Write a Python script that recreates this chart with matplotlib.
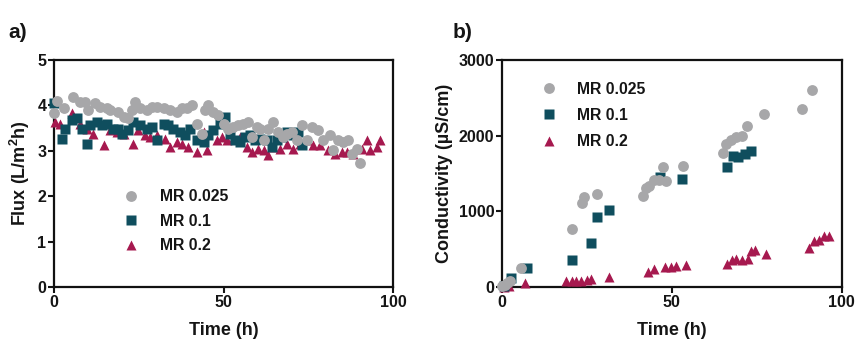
import matplotlib
matplotlib.use("Agg")
import matplotlib.pyplot as plt

plt.rcParams['font.family'] = ['Liberation Sans', 'DejaVu Sans']
plt.rcParams['font.weight'] = 'bold'
plt.rcParams['mathtext.fontset'] = 'custom'
plt.rcParams['mathtext.bf'] = 'Liberation Sans:bold'
plt.rcParams['mathtext.rm'] = 'Liberation Sans:bold'

# ---- Flux data (L/m2h) ----
flux_t_025 = [0, 1.0, 2.8, 5.7, 7.7, 9.1, 10.1, 12.1, 13.6, 15.5, 16.5, 19.0, 20.5, 21.9, 22.9,
              23.9, 25.4, 27.3, 28.8, 30.3, 32.3, 34.2, 36.2, 37.7, 39.1, 40.6, 42.1, 43.6, 44.5,
              45.5, 47.0, 48.5, 50.0, 51.4, 52.9, 54.4, 55.8, 57.3, 58.3, 59.8, 60.8, 61.8, 63.2,
              64.7, 66.2, 67.6, 68.6, 70.1, 71.6, 73.1, 74.5, 76.0, 78.0, 79.4, 81.4, 82.4, 83.9,
              85.3, 86.8, 87.8, 89.3, 90.3]
flux_v_025 = [3.83, 4.10, 3.94, 4.18, 4.08, 4.08, 3.90, 4.05, 3.97, 3.94, 3.90, 3.86, 3.75, 3.72, 3.90,
              4.08, 3.94, 3.90, 3.97, 3.97, 3.94, 3.90, 3.86, 3.94, 3.94, 4.01, 3.60, 3.38, 3.90,
              4.01, 3.86, 3.79, 3.60, 3.49, 3.53, 3.57, 3.60, 3.64, 3.31, 3.53, 3.49, 3.24, 3.49,
              3.64, 3.42, 3.31, 3.38, 3.42, 3.24, 3.57, 3.24, 3.53, 3.46, 3.24, 3.35, 3.02, 3.24,
              3.20, 3.24, 2.94, 3.05, 2.74]

flux_t_01 = [0, 2.3, 3.2, 5.2, 6.7, 8.2, 9.6, 10.6, 12.6, 14.1, 15.5, 17.5, 19.0, 20.0, 21.9,
             23.4, 25.4, 27.3, 28.8, 30.3, 32.3, 33.7, 35.2, 37.2, 38.6, 40.1, 42.1, 44.1, 45.5,
             47.0, 49.0, 50.4, 51.9, 53.4, 54.9, 56.3, 57.8, 59.3, 60.8, 62.7, 64.2, 65.7, 67.2,
             68.6, 70.6, 72.1, 73.1]
flux_v_01 = [4.05, 3.27, 3.49, 3.68, 3.72, 3.49, 3.16, 3.57, 3.64, 3.57, 3.60, 3.49, 3.49, 3.38, 3.46,
             3.64, 3.57, 3.49, 3.53, 3.24, 3.60, 3.57, 3.49, 3.42, 3.35, 3.49, 3.24, 3.20, 3.35,
             3.46, 3.60, 3.75, 3.38, 3.24, 3.20, 3.31, 3.35, 3.24, 3.27, 3.24, 3.09, 3.24, 3.31,
             3.42, 3.35, 3.42, 3.13]

flux_t_02 = [0.3, 1.8, 5.2, 7.7, 9.6, 11.6, 14.6, 16.5, 18.5, 20.5, 23.4, 24.9, 26.8, 28.3, 30.3,
             32.7, 34.2, 36.2, 37.7, 39.6, 42.1, 44.1, 45.0, 48.0, 49.5, 50.9, 52.9, 54.9, 56.8,
             58.3, 60.3, 61.8, 63.2, 64.7, 66.7, 68.6, 70.6, 72.6, 74.5, 76.5, 78.5, 80.9, 82.9,
             84.9, 86.3, 88.3, 90.8, 92.2, 93.2, 95.2, 96.2]
flux_v_02 = [3.64, 3.60, 3.83, 3.60, 3.49, 3.38, 3.13, 3.46, 3.42, 3.38, 3.16, 3.46, 3.35, 3.31, 3.35,
             3.27, 3.09, 3.20, 3.16, 3.09, 2.98, 3.42, 3.02, 3.24, 3.31, 3.24, 3.27, 3.31, 3.09,
             2.98, 3.05, 3.02, 2.91, 3.09, 3.05, 3.16, 3.05, 3.16, 3.24, 3.13, 3.13, 3.02, 2.94,
             2.98, 2.98, 2.94, 3.05, 3.24, 3.02, 3.09, 3.24]

# ---- Conductivity data (uS/cm) ----
cond_t_025 = [0, 0.8, 1.5, 2.3, 5.7, 20.6, 23.6, 24.2, 28.1, 41.4, 42.3, 43.3, 44.8, 46.3, 47.5,
              48.4, 53.4, 65.1, 65.9, 67.4, 68.9, 70.6, 72.2, 77.1, 88.2, 91.2]
cond_v_025 = [10, 30, 50, 80, 251, 765, 1110, 1190, 1225, 1205, 1310, 1330, 1410, 1420, 1584,
              1405, 1605, 1769, 1892, 1944, 1980, 1997, 2130, 2288, 2350, 2604]

cond_t_01 = [0.5, 2.8, 7.4, 20.7, 26.1, 28.0, 31.4, 46.5, 53.1, 66.1, 67.9, 69.5, 71.5, 73.2]
cond_v_01 = [20, 119, 251, 360, 581, 932, 1020, 1450, 1430, 1592, 1733, 1715, 1760, 1803]

cond_t_02 = [0.5, 2.0, 6.7, 19.0, 20.5, 21.9, 23.4, 24.9, 26.3, 31.4, 43.0, 44.8, 47.9, 49.9, 51.2,
             54.1, 66.2, 67.7, 69.0, 70.6, 72.3, 73.3, 74.6, 77.7, 90.3, 91.8, 93.3, 94.9, 96.3]
cond_v_02 = [5, 15, 50, 74, 83, 83, 87, 96, 106, 132, 193, 242, 264, 272, 273,
             286, 304, 352, 370, 361, 370, 471, 493, 436, 515, 603, 625, 678, 678]

labels = ['MR 0.025', 'MR 0.1', 'MR 0.2']
colors = ['#A7A7A9', '#0F4E5E', '#A6194F']
markers = ['o', 's', '^']
msizes = [7.8, 6.8, 7.4]

TXT = '#151515'

fig = plt.figure(figsize=(8.58, 3.43), dpi=100)
ax1 = fig.add_axes([0.063, 0.163, 0.395, 0.662])
ax2 = fig.add_axes([0.585, 0.163, 0.396, 0.662])


def style(ax):
    for s in ax.spines.values():
        s.set_linewidth(1.6)
        s.set_color('#111111')
    ax.tick_params(direction='out', length=4, width=1.5, labelsize=11.5, pad=1.5, colors=TXT)
    for lab in ax.get_xticklabels() + ax.get_yticklabels():
        lab.set_fontweight('bold')


flux = [(flux_t_025, flux_v_025), (flux_t_01, flux_v_01), (flux_t_02, flux_v_02)]
cond = [(cond_t_025, cond_v_025), (cond_t_01, cond_v_01), (cond_t_02, cond_v_02)]

for i in [2, 1, 0]:
    t, v = flux[i]
    ax1.plot(t, v, linestyle='none', marker=markers[i], color=colors[i], ms=msizes[i],
             mec='none', label=labels[i], clip_on=False, zorder=3 + (2 - i))
for i in [2, 1, 0]:
    t, v = cond[i]
    ax2.plot(t, v, linestyle='none', marker=markers[i], color=colors[i], ms=msizes[i],
             mec='none', label=labels[i], clip_on=False, zorder=3 + (2 - i))

ax1.set_xlim(0, 100)
ax1.set_ylim(0, 5)
ax1.set_xticks([0, 50, 100])
ax1.set_yticks([0, 1, 2, 3, 4, 5])
ax1.set_xlabel('Time (h)', fontsize=13, fontweight='bold', labelpad=9, color=TXT)
ax1.set_ylabel('Flux (L/m$\\mathbf{^2}$h)', fontsize=13, fontweight='bold', labelpad=4, color=TXT)

ax2.set_xlim(0, 100)
ax2.set_ylim(0, 3000)
ax2.set_xticks([0, 50, 100])
ax2.set_yticks([0, 1000, 2000, 3000])
ax2.set_xlabel('Time (h)', fontsize=13, fontweight='bold', labelpad=9, color=TXT)
ax2.set_ylabel('Conductivity (\u00b5S/cm)', fontsize=13, fontweight='bold', labelpad=4, color=TXT)

style(ax1)
style(ax2)


def add_legend(ax, anchor, spacing):
    h, l = ax.get_legend_handles_labels()
    order = [l.index(x) for x in labels]
    leg = ax.legend([h[k] for k in order], [l[k] for k in order], loc='upper left',
                    bbox_to_anchor=anchor, frameon=False, handlelength=1.0,
                    handletextpad=1.3, labelspacing=spacing, borderpad=0, borderaxespad=0,
                    prop={'weight': 'bold', 'size': 11.3})
    for txt in leg.get_texts():
        txt.set_color(TXT)


add_legend(ax1, (0.205, 0.43), 0.6)
add_legend(ax2, (0.115, 0.905), 0.72)

fig.text(0.010, 0.89, 'a)', fontsize=15, fontweight='bold', color=TXT)
fig.text(0.527, 0.89, 'b)', fontsize=15, fontweight='bold', color=TXT)

fig.savefig('out.png', dpi=100)
